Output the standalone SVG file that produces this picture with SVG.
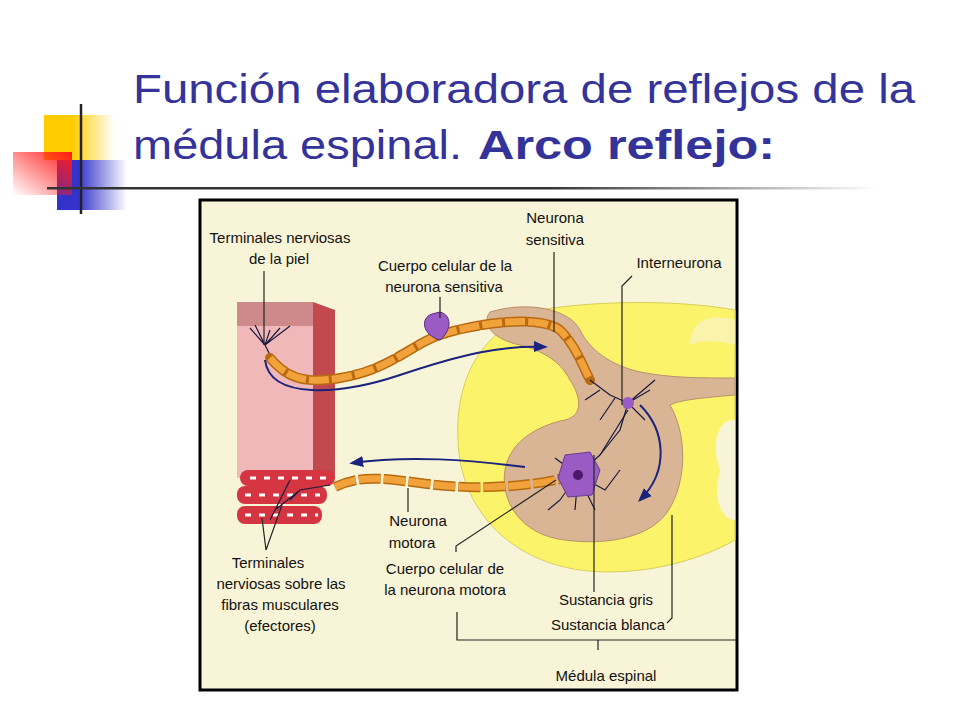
<svg xmlns="http://www.w3.org/2000/svg" width="960" height="720" viewBox="0 0 960 720">
<defs>
<linearGradient id="gy" x1="0" x2="1" y1="0" y2="0"><stop offset="0.4" stop-color="#ffcc00"/><stop offset="1" stop-color="#ffcc00" stop-opacity="0"/></linearGradient>
<linearGradient id="gb" x1="0" x2="1" y1="0" y2="0"><stop offset="0.3" stop-color="#3333cc"/><stop offset="1" stop-color="#3333cc" stop-opacity="0"/></linearGradient>
<linearGradient id="gr" x1="1" x2="0" y1="0" y2="1"><stop offset="0" stop-color="#ff1a1a"/><stop offset="1" stop-color="#ff1a1a" stop-opacity="0"/></linearGradient>
<linearGradient id="gl" x1="0" x2="1" y1="0" y2="0"><stop offset="0.6" stop-color="#333"/><stop offset="1" stop-color="#333" stop-opacity="0"/></linearGradient>
<marker id="ah" viewBox="0 0 10 10" refX="8" refY="5" markerWidth="7" markerHeight="7" orient="auto"><path d="M0,1 L10,5 L0,9 Z" fill="#1a237e"/></marker>
</defs>
<style>
.t{font-family:"Liberation Sans",Arial,sans-serif;font-size:15px;fill:#111;text-anchor:middle}
.ld{stroke:#222;stroke-width:1.2;fill:none}
.arw{stroke:#1a237e;stroke-width:2;fill:none;marker-end:url(#ah)}
.den{stroke:#1a1a40;stroke-width:1.2;fill:none}
</style>
<rect width="960" height="720" fill="#fff"/>
<g id="deco">
<rect x="44" y="115" width="70" height="45" fill="url(#gy)"/>
<rect x="57" y="160" width="70" height="50" fill="url(#gb)"/>
<rect x="13" y="152" width="59" height="43" fill="url(#gr)"/>
<line x1="81" y1="104" x2="81" y2="214" stroke="#222" stroke-width="2.5"/>
<rect x="47" y="187" width="830" height="2.5" fill="url(#gl)"/>
</g>
<g id="title" font-family="Liberation Sans,Arial,sans-serif" font-size="40" fill="#333399">
<text x="133" y="103" textLength="782" lengthAdjust="spacingAndGlyphs">Función elaboradora de reflejos de la</text>
<text x="133" y="159" textLength="329" lengthAdjust="spacingAndGlyphs">médula espinal.</text>
<text x="478" y="159" font-weight="bold" textLength="297" lengthAdjust="spacingAndGlyphs">Arco reflejo:</text>
</g>
<g id="picture">
<rect x="200" y="200" width="537" height="490" fill="#f8f4d8" stroke="#000" stroke-width="3"/>
<path d="M735,310 C680,300 600,300 540,310 C480,330 455,380 458,440 C460,510 510,560 580,570 C640,578 700,560 735,540 Z" fill="#fbf36a" stroke="#d8cf5a"/>
<path d="M735,420 C715,418 712,450 720,470 C712,500 722,520 735,520 Z" fill="#f8f4d8"/>
<path d="M735,320 C700,310 690,330 690,345 C700,340 720,340 735,345 Z" fill="#f8f4d8" opacity="0.6"/>
<path d="M490,312 C530,300 570,310 580,330 C590,350 610,365 640,372 C670,378 700,378 735,378 L735,395 C700,398 680,400 670,405 C690,440 685,490 665,515 C645,540 600,545 565,540 C520,535 500,500 505,470 C510,440 540,425 565,420 C585,415 580,395 570,380 C560,360 540,350 520,345 C495,340 480,325 490,312 Z" fill="#d9b595" stroke="#b8906e"/>
<g id="skin">
<path d="M313,302 L335,310 L335,478 L313,478 Z" fill="#c24a4f"/>
<rect x="237" y="302" width="76" height="176" fill="#f0b8b8"/>
<rect x="237" y="302" width="76" height="24" fill="#b86a6a" opacity="0.6"/>
<path d="M255,325 L265,345 L270,330 M265,345 L280,328 M265,345 L290,326 M265,345 L250,328 M265,345 L270,355" class="den"/>
</g>
<g id="muscle">
<rect x="240" y="470" width="95" height="16" rx="8" fill="#d43540"/>
<rect x="237" y="486" width="90" height="18" rx="8" fill="#d43540"/>
<rect x="237" y="506" width="85" height="18" rx="8" fill="#d43540"/>
<path d="M245,495 H320 M245,515 H318 M250,478 H330" stroke="#fff" stroke-width="3" stroke-dasharray="6 8"/>
<path d="M330,485 L300,490 L275,510 M300,490 L290,500 M290,480 L270,520" class="den" stroke="#1a237e" stroke-width="2"/>
</g>
<g id="sensory">
<path d="M270,358 C285,375 300,385 340,378 C390,370 410,345 440,335 C480,322 540,315 560,330 C575,345 580,360 590,380" fill="none" stroke="#b86a10" stroke-width="10" stroke-dasharray="20 3" stroke-linecap="round"/>
<path d="M270,358 C285,375 300,385 340,378 C390,370 410,345 440,335 C480,322 540,315 560,330 C575,345 580,360 590,380" fill="none" stroke="#f2a23a" stroke-width="7" stroke-dasharray="20 3"/>
<path d="M432,314 C420,318 422,335 440,340 C452,330 452,315 440,312 Z" fill="#9a5cc4" stroke="#5a2a80"/>
<path d="M590,380 L610,395 L628,403 M600,390 L585,400 M615,398 L600,420 M628,403 L650,390 M628,403 L645,420 M628,403 L620,430 L600,455 M628,403 L655,380" class="den"/>
<circle cx="628" cy="403" r="6" fill="#9a5cc4"/>
<path d="M265,360 C270,400 340,395 400,375 C460,355 500,345 545,347" class="arw"/>
</g>
<g id="motor">
<path d="M335,487 C360,475 380,478 420,483 C470,490 520,488 565,478" fill="none" stroke="#b86a10" stroke-width="10" stroke-dasharray="22 3"/>
<path d="M335,487 C360,475 380,478 420,483 C470,490 520,488 565,478" fill="none" stroke="#f2a23a" stroke-width="7" stroke-dasharray="22 3"/>
<path d="M578,475 L555,458 M578,475 L560,500 M578,475 L600,455 M578,475 L605,490 L620,470 M578,475 L575,510 M578,475 L595,510 M600,455 L628,410 M560,500 L548,510" class="den"/>
<path d="M565,455 L590,452 L600,470 L592,495 L568,497 L558,478 Z" fill="#9a5cc4" stroke="#6a3a90"/>
<circle cx="578" cy="475" r="5" fill="#4a1a6a"/>
<path d="M525,467 C470,460 410,455 352,463" class="arw"/>
<path d="M640,405 C665,430 670,470 640,500" class="arw"/>
</g>
<g id="labels">
<text class="t" x="280" y="243">Terminales nerviosas</text>
<text class="t" x="279" y="264">de la piel</text>
<path class="ld" d="M264,271 V345"/>
<text class="t" x="445" y="271">Cuerpo celular de la</text>
<text class="t" x="444" y="292">neurona sensitiva</text>
<path class="ld" d="M440,297 V318"/>
<text class="t" x="555" y="223">Neurona</text>
<text class="t" x="555" y="245">sensitiva</text>
<path class="ld" d="M554,252 V332"/>
<text class="t" x="679" y="268">Interneurona</text>
<path class="ld" d="M632,276 L622,286 V405"/>
<text class="t" x="418" y="526">Neurona</text>
<text class="t" x="412" y="548">motora</text>
<path class="ld" d="M408,488 V512"/>
<text class="t" x="445" y="574">Cuerpo celular de</text>
<text class="t" x="445" y="595">la neurona motora</text>
<path class="ld" d="M456,552 V546 L556,480"/>
<text class="t" x="268" y="568">Terminales</text>
<text class="t" x="281" y="589">nerviosas sobre las</text>
<text class="t" x="280" y="610">fibras musculares</text>
<text class="t" x="280" y="631">(efectores)</text>
<path class="ld" d="M266,550 L262,518 M266,550 L282,505"/>
<text class="t" x="606" y="605">Sustancia gris</text>
<path class="ld" d="M594,455 V592"/>
<text class="t" x="608" y="630">Sustancia blanca</text>
<path class="ld" d="M672,515 V618 L667,623"/>
<path class="ld" d="M457,612 V640 H737 M598,640 V650"/>
<text class="t" x="606" y="681">Médula espinal</text>
</g>
</g>
</svg>
